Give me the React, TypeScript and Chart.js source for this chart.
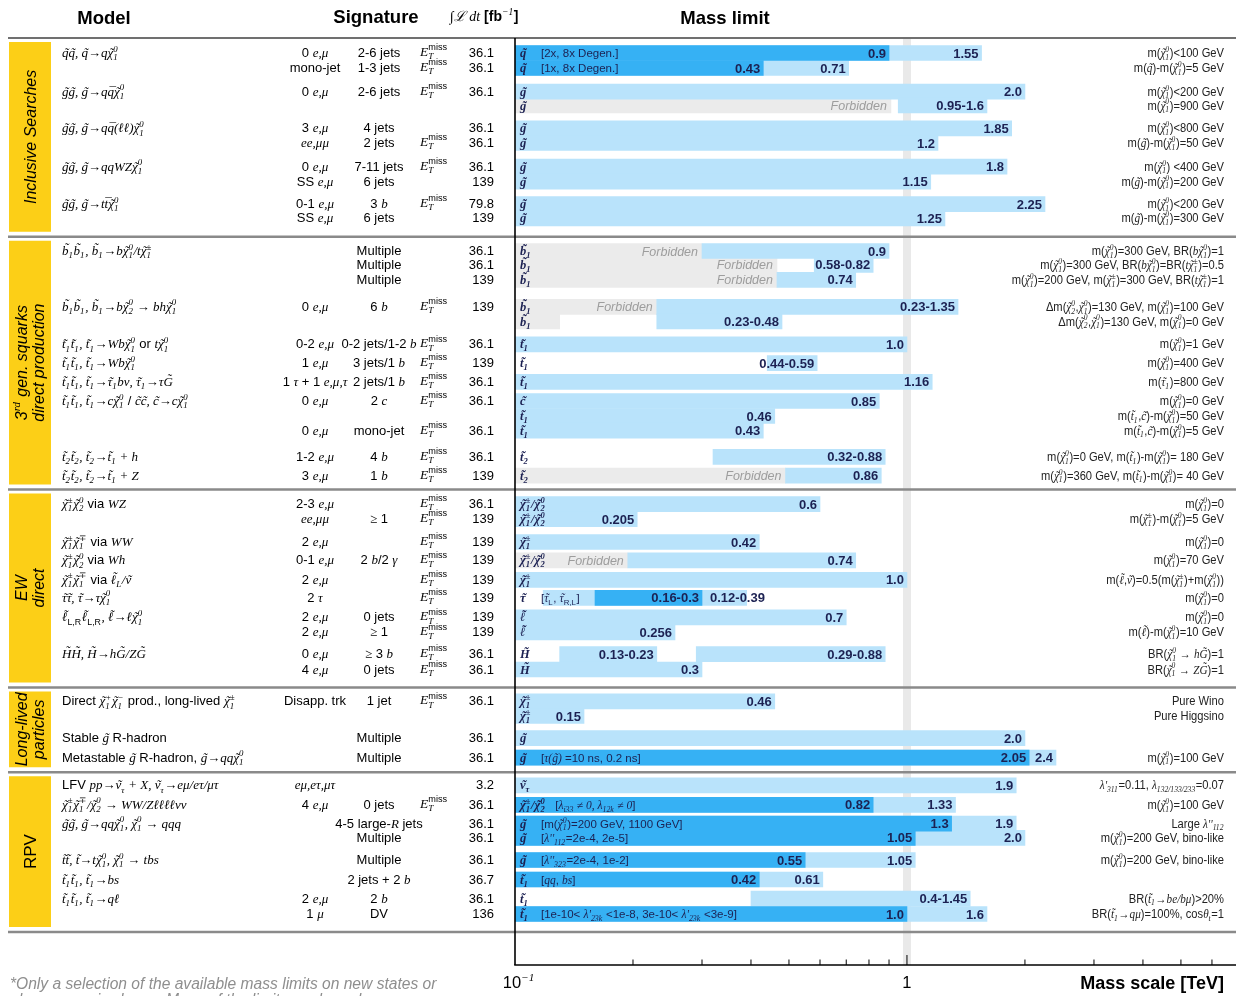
import React, { useEffect, useRef } from 'react';
import { Chart, registerables } from 'chart.js';

Chart.register(...registerables);

// ---------------- data ----------------
// vertical position of each result row on the (line-unit) category scale
const rowLine = [1.0, 2.0, 3.57, 4.5, 6.03, 7.0, 8.57, 9.57, 11.07, 12.03,
  14.2, 15.13, 16.13, 17.93, 18.9, 20.43, 21.67, 22.93, 24.2, 25.2, 26.17, 27.93, 29.17,
  31.07, 32.07, 33.6, 34.83, 36.13, 37.33, 38.63, 39.63, 41.07, 42.1,
  44.23, 45.2, 46.67, 47.97,
  49.83, 51.13, 52.37, 53.33, 54.8, 56.1, 57.37, 58.4];

const sectionBreaks = [13.25, 30.1, 43.3, 48.95, 59.6];
const sectionNames: string[][] = [
  ['Inclusive Searches'],
  ['3$^{rd}$ gen. squarks', 'direct production'],
  ['EW', 'direct'],
  ['Long-lived', 'particles'],
  ['RPV'],
];
const sectionItalic = [true, true, true, true, false];

const modelLabels: [number, string][] = [
  [0, '$~q~q, ~q→q~χ_1^0$'],
  [2, '$~g~g, ~g→q`q~χ_1^0$'],
  [4, '$~g~g, ~g→q`q(ℓℓ)~χ_1^0$'],
  [6, '$~g~g, ~g→qqWZ~χ_1^0$'],
  [8, '$~g~g, ~g→t`t~χ_1^0$'],
  [10, '$~b_1~b_1, ~b_1→b~χ_1^0/t~χ_1^±$'],
  [13, '$~b_1~b_1, ~b_1→b~χ_2^0 → bh~χ_1^0$'],
  [15, '$~t_1~t_1, ~t_1→Wb~χ_1^0$ or $t~χ_1^0$'],
  [16, '$~t_1~t_1, ~t_1→Wb~χ_1^0$'],
  [17, '$~t_1~t_1, ~t_1→~τ_1bν, ~τ_1→τ~G$'],
  [18, '$~t_1~t_1, ~t_1→c~χ_1^0$ / $~c~c, ~c→c~χ_1^0$'],
  [21, '$~t_2~t_2, ~t_2→~t_1 + h$'],
  [22, '$~t_2~t_2, ~t_2→~t_1 + Z$'],
  [23, '$~χ_1^±~χ_2^0$ via $WZ$'],
  [25, '$~χ_1^±~χ_1^∓$ via $WW$'],
  [26, '$~χ_1^±~χ_2^0$ via $Wh$'],
  [27, '$~χ_1^±~χ_1^∓$ via $~ℓ_L/~ν$'],
  [28, '$~τ~τ, ~τ→τ~χ_1^0$'],
  [29, '$~ℓ_{$L,R$}~ℓ_{$L,R$}, ~ℓ→ℓ~χ_1^0$'],
  [31, '$~H~H, ~H→h~G/Z~G$'],
  [33, 'Direct $~χ_1^+~χ_1^−$ prod., long-lived $~χ_1^±$'],
  [35, 'Stable $~g$ R-hadron'],
  [36, 'Metastable $~g$ R-hadron, $~g→qq~χ_1^0$'],
  [37, 'LFV $pp→~ν_τ + X, ~ν_τ→eμ/eτ/μτ$'],
  [38, '$~χ_1^±~χ_1^∓/~χ_2^0 → WW/Zℓℓℓℓνν$'],
  [39, '$~g~g, ~g→qq~χ_1^0, ~χ_1^0 → qqq$'],
  [41, '$~t~t, ~t→t~χ_1^0, ~χ_1^0 → tbs$'],
  [42, '$~t_1~t_1, ~t_1→bs$'],
  [43, '$~t_1~t_1, ~t_1→qℓ$'],
];

const leptonSig: [number, string][] = [
  [0, '0 $e,μ$'], [1, 'mono-jet'], [2, '0 $e,μ$'], [4, '3 $e,μ$'], [5, '$ee,μμ$'], [6, '0 $e,μ$'], [7, 'SS $e,μ$'],
  [8, '0-1 $e,μ$'], [9, 'SS $e,μ$'], [13, '0 $e,μ$'], [15, '0-2 $e,μ$'], [16, '1 $e,μ$'], [17, '1 $τ$ + 1 $e,μ,τ$'],
  [18, '0 $e,μ$'], [20, '0 $e,μ$'], [21, '1-2 $e,μ$'], [22, '3 $e,μ$'], [23, '2-3 $e,μ$'], [24, '$ee,μμ$'],
  [25, '2 $e,μ$'], [26, '0-1 $e,μ$'], [27, '2 $e,μ$'], [28, '2 $τ$'], [29, '2 $e,μ$'], [30, '2 $e,μ$'],
  [31, '0 $e,μ$'], [32, '4 $e,μ$'], [33, 'Disapp. trk'], [37, '$eμ,eτ,μτ$'], [38, '4 $e,μ$'], [43, '2 $e,μ$'], [44, '1 $μ$'],
];

const jetSig: [number, string][] = [
  [0, '2-6 jets'], [1, '1-3 jets'], [2, '2-6 jets'], [4, '4 jets'], [5, '2 jets'], [6, '7-11 jets'], [7, '6 jets'],
  [8, '3 $b$'], [9, '6 jets'], [10, 'Multiple'], [11, 'Multiple'], [12, 'Multiple'], [13, '6 $b$'],
  [15, '0-2 jets/1-2 $b$'], [16, '3 jets/1 $b$'], [17, '2 jets/1 $b$'], [18, '2 $c$'], [20, 'mono-jet'],
  [21, '4 $b$'], [22, '1 $b$'], [24, '$≥$ 1'], [26, '2 $b$/2 $γ$'], [29, '0 jets'], [30, '$≥$ 1'], [31, '$≥$ 3 $b$'],
  [32, '0 jets'], [33, '1 jet'], [35, 'Multiple'], [36, 'Multiple'], [38, '0 jets'], [39, '4-5 large-$R$ jets'],
  [40, 'Multiple'], [41, 'Multiple'], [42, '2 jets + 2 $b$'], [43, '2 $b$'], [44, 'DV'],
];

const metRows = [0, 1, 2, 5, 6, 8, 13, 15, 16, 17, 18, 20, 21, 22, 23, 24, 25, 26, 27, 28, 29, 30, 31, 32, 33, 38];

const lumi: [number, string][] = [
  [0, '36.1'], [1, '36.1'], [2, '36.1'], [4, '36.1'], [5, '36.1'], [6, '36.1'], [7, '139'], [8, '79.8'], [9, '139'],
  [10, '36.1'], [11, '36.1'], [12, '139'], [13, '139'], [15, '36.1'], [16, '139'], [17, '36.1'], [18, '36.1'],
  [20, '36.1'], [21, '36.1'], [22, '139'], [23, '36.1'], [24, '139'], [25, '139'], [26, '139'], [27, '139'],
  [28, '139'], [29, '139'], [30, '139'], [31, '36.1'], [32, '36.1'], [33, '36.1'], [35, '36.1'], [36, '36.1'],
  [37, '3.2'], [38, '36.1'], [39, '36.1'], [40, '36.1'], [41, '36.1'], [42, '36.7'], [43, '36.1'], [44, '136'],
];

const particles: [number, string][] = [
  [0, '$~q$'], [1, '$~q$'], [2, '$~g$'], [3, '$~g$'], [4, '$~g$'], [5, '$~g$'], [6, '$~g$'], [7, '$~g$'], [8, '$~g$'], [9, '$~g$'],
  [10, '$~b_1$'], [11, '$~b_1$'], [12, '$~b_1$'], [13, '$~b_1$'], [14, '$~b_1$'], [15, '$~t_1$'], [16, '$~t_1$'], [17, '$~t_1$'],
  [18, '$~c$'], [19, '$~t_1$'], [20, '$~t_1$'], [21, '$~t_2$'], [22, '$~t_2$'],
  [23, '$~χ_1^±/~χ_2^0$'], [24, '$~χ_1^±/~χ_2^0$'], [25, '$~χ_1^±$'], [26, '$~χ_1^±/~χ_2^0$'], [27, '$~χ_1^±$'], [28, '$~τ$'],
  [29, '$~ℓ$'], [30, '$~ℓ$'], [31, '$~H$'], [32, '$~H$'], [33, '$~χ_1^±$'], [34, '$~χ_1^±$'], [35, '$~g$'], [36, '$~g$'],
  [37, '$~ν_τ$'], [38, '$~χ_1^±/~χ_2^0$'], [39, '$~g$'], [40, '$~g$'], [41, '$~g$'], [42, '$~t_1$'], [43, '$~t_1$'], [44, '$~t_1$'],
];

const notes: [number, string][] = [
  [0, '[2x, 8x Degen.]'], [1, '[1x, 8x Degen.]'], [28, '[$~τ_{$L$}$, $~τ_{$R,L$}$]'], [36, '[$τ(~g)$ =10 ns, 0.2 ns]'],
  [38, '[$λ_{i33} ≠ 0, λ_{12k} ≠ 0$]'], [39, '[m($~χ_1^0$)=200 GeV, 1100 GeV]'], [40, "[$λ''_{112}$=2e-4, 2e-5]"],
  [41, "[$λ''_{323}$=2e-4, 1e-2]"], [42, '[$qq$, $bs$]'], [44, "[1e-10< $λ'_{23k}$ <1e-8, 3e-10< $λ'_{23k}$ <3e-9]"],
];

const conditions: [number, string][] = [
  [0, 'm($~χ_1^0$)<100 GeV'], [1, 'm($~q$)-m($~χ_1^0$)=5 GeV'], [2, 'm($~χ_1^0$)<200 GeV'], [3, 'm($~χ_1^0$)=900 GeV'],
  [4, 'm($~χ_1^0$)<800 GeV'], [5, 'm($~g$)-m($~χ_1^0$)=50 GeV'], [6, 'm($~χ_1^0$) <400 GeV'], [7, 'm($~g$)-m($~χ_1^0$)=200 GeV'],
  [8, 'm($~χ_1^0$)<200 GeV'], [9, 'm($~g$)-m($~χ_1^0$)=300 GeV'],
  [10, 'm($~χ_1^0$)=300 GeV, BR($b~χ_1^0$)=1'], [11, 'm($~χ_1^0$)=300 GeV, BR($b~χ_1^0$)=BR($t~χ_1^±$)=0.5'],
  [12, 'm($~χ_1^0$)=200 GeV, m($~χ_1^±$)=300 GeV, BR($t~χ_1^±$)=1'],
  [13, 'Δm($~χ_2^0$,$~χ_1^0$)=130 GeV, m($~χ_1^0$)=100 GeV'], [14, 'Δm($~χ_2^0$,$~χ_1^0$)=130 GeV, m($~χ_1^0$)=0 GeV'],
  [15, 'm($~χ_1^0$)=1 GeV'], [16, 'm($~χ_1^0$)=400 GeV'], [17, 'm($~τ_1$)=800 GeV'], [18, 'm($~χ_1^0$)=0 GeV'],
  [19, 'm($~t_1$,$~c$)-m($~χ_1^0$)=50 GeV'], [20, 'm($~t_1$,$~c$)-m($~χ_1^0$)=5 GeV'],
  [21, 'm($~χ_1^0$)=0 GeV, m($~t_1$)-m($~χ_1^0$)= 180 GeV'], [22, 'm($~χ_1^0$)=360 GeV, m($~t_1$)-m($~χ_1^0$)= 40 GeV'],
  [23, 'm($~χ_1^0$)=0'], [24, 'm($~χ_1^±$)-m($~χ_1^0$)=5 GeV'], [25, 'm($~χ_1^0$)=0'], [26, 'm($~χ_1^0$)=70 GeV'],
  [27, 'm($~ℓ$,$~ν$)=0.5(m($~χ_1^±$)+m($~χ_1^0$))'], [28, 'm($~χ_1^0$)=0'], [29, 'm($~χ_1^0$)=0'],
  [30, 'm($~ℓ$)-m($~χ_1^0$)=10 GeV'], [31, 'BR($~χ_1^0$ → $h~G$)=1'], [32, 'BR($~χ_1^0$ → $Z~G$)=1'],
  [33, 'Pure Wino'], [34, 'Pure Higgsino'], [36, 'm($~χ_1^0$)=100 GeV'],
  [37, "$λ'_{311}$=0.11, $λ_{132/133/233}$=0.07"], [38, 'm($~χ_1^0$)=100 GeV'], [39, "Large $λ''_{112}$"],
  [40, 'm($~χ_1^0$)=200 GeV, bino-like'], [41, 'm($~χ_1^0$)=200 GeV, bino-like'],
  [43, 'BR($~t_1→be/bμ$)>20%'], [44, 'BR($~t_1→qμ$)=100%, cos$θ_t$=1'],
];

// [row, low, high, label]  (TeV)
const darkBars: [number, number, number, string][] = [
  [0, 0.1, 0.9, '0.9'], [1, 0.1, 0.43, '0.43'], [28, 0.16, 0.3, '0.16-0.3'], [36, 0.1, 2.05, '2.05'],
  [38, 0.1, 0.82, '0.82'], [39, 0.1, 1.3, '1.3'], [40, 0.1, 1.05, '1.05'], [41, 0.1, 0.55, '0.55'],
  [42, 0.1, 0.42, '0.42'], [44, 0.1, 1.0, '1.0'],
];
const lightBars: [number, number, number, string][] = [
  [0, 0.1, 1.55, '1.55'], [1, 0.1, 0.71, '0.71'], [2, 0.1, 2.0, '2.0'], [3, 0.95, 1.6, '0.95-1.6'],
  [4, 0.1, 1.85, '1.85'], [5, 0.1, 1.2, '1.2'], [6, 0.1, 1.8, '1.8'], [7, 0.1, 1.15, '1.15'],
  [8, 0.1, 2.25, '2.25'], [9, 0.1, 1.25, '1.25'],
  [10, 0.3, 0.9, '0.9'], [11, 0.58, 0.82, '0.58-0.82'], [12, 0.466, 0.74, '0.74'],
  [13, 0.23, 1.35, '0.23-1.35'], [14, 0.23, 0.48, '0.23-0.48'], [15, 0.1, 1.0, '1.0'],
  [16, 0.44, 0.59, '0.44-0.59'], [17, 0.1, 1.16, '1.16'], [18, 0.1, 0.85, '0.85'], [19, 0.1, 0.46, '0.46'],
  [20, 0.1, 0.43, '0.43'], [21, 0.32, 0.88, '0.32-0.88'], [22, 0.49, 0.86, '0.86'],
  [23, 0.1, 0.6, '0.6'], [24, 0.1, 0.205, '0.205'], [25, 0.1, 0.42, '0.42'], [26, 0.194, 0.74, '0.74'],
  [27, 0.1, 1.0, '1.0'], [28, 0.118, 0.39, '0.12-0.39'], [29, 0.1, 0.7, '0.7'], [30, 0.1, 0.256, '0.256'],
  [31, 0.13, 0.23, '0.13-0.23'], [31, 0.29, 0.88, '0.29-0.88'], [32, 0.1, 0.3, '0.3'],
  [33, 0.1, 0.46, '0.46'], [34, 0.1, 0.15, '0.15'], [35, 0.1, 2.0, '2.0'], [36, 0.1, 2.4, '2.4'],
  [37, 0.1, 1.9, '1.9'], [38, 0.1, 1.33, '1.33'], [39, 0.1, 1.9, '1.9'], [40, 0.1, 2.0, '2.0'],
  [41, 0.1, 1.05, '1.05'], [42, 0.1, 0.61, '0.61'], [43, 0.4, 1.45, '0.4-1.45'], [44, 0.1, 1.6, '1.6'],
];
// [row, upper edge of kinematically forbidden region, show text]
const forbiddenBars: [number, number, boolean][] = [
  [3, 0.91, true], [10, 0.3, true], [11, 0.466, true], [12, 0.466, true], [13, 0.23, true],
  [14, 0.13, false], [22, 0.49, true], [26, 0.194, true],
];

const massTicks = [0.2, 0.3, 0.4, 0.5, 0.6, 0.7, 0.8, 0.9, 1, 2, 3, 4, 5, 6];
const axisTickLabels: [number, string][] = [[0.1, '10$^{−1}$'], [1, '1']];
const X_MIN = 0.1;
const X_MAX = 6.91;
const Y_MAX = 61.8;

// ---------------- styles ----------------
const DARK = '#36b1f4';
const LIGHT = '#b9e3fb';
const GREY = '#ebebeb';
const YELLOW = '#fccf17';
const NAVY = '#1c2152';
const SANS = '"Liberation Sans", Arial, Helvetica, sans-serif';
const SERIF = '"Liberation Serif", "Times New Roman", "DejaVu Serif", serif';

// ---------------- rich text ----------------
type RNode =
  | { t: 's'; s: string; m: boolean }
  | { t: 'a'; s: string; acc: string; m: boolean }
  | { t: 'x'; sub: RNode[] | null; sup: RNode[] | null };
type RO = { size: number; color?: string; align?: 'left' | 'right' | 'center'; bold?: boolean; italic?: boolean; mathBold?: boolean; hscale?: number };

const parseCache = new Map<string, RNode[]>();
function parseRich(src: string): RNode[] {
  const cached = parseCache.get(src);
  if (cached) return cached;
  let i = 0;
  let math = false;
  let arg: () => RNode[];
  const seq = (inBrace: boolean): RNode[] => {
    const out: RNode[] = [];
    let buf = '';
    const flush = () => { if (buf) { out.push({ t: 's', s: buf, m: math }); buf = ''; } };
    while (i < src.length) {
      const c = src[i];
      if (inBrace && c === '}') { i++; break; }
      if (c === '$') { flush(); math = !math; i++; continue; }
      if (c === '_' || c === '^') {
        flush(); i++;
        let sub: RNode[] | null = null;
        let sup: RNode[] | null = null;
        if (c === '_') sub = arg(); else sup = arg();
        if (src[i] === '_' && !sub) { i++; sub = arg(); }
        else if (src[i] === '^' && !sup) { i++; sup = arg(); }
        out.push({ t: 'x', sub, sup });
        continue;
      }
      if (math && (c === '~' || c === '`') && i + 1 < src.length) {
        flush();
        out.push({ t: 'a', s: src[i + 1], acc: c === '~' ? '\u02DC' : '\u00AF', m: math });
        i += 2;
        continue;
      }
      buf += c; i++;
    }
    flush();
    return out;
  };
  arg = () => {
    if (src[i] === '{') { i++; return seq(true); }
    const c = src[i++] ?? '';
    return [{ t: 's', s: c, m: math }];
  };
  const res = seq(false);
  parseCache.set(src, res);
  return res;
}

function fontOf(m: boolean, size: number, o: RO) {
  if (m) return `italic ${o.mathBold ? 'bold ' : ''}${size}px ${SERIF}`;
  return `${o.italic ? 'italic ' : ''}${o.bold ? 'bold ' : ''}${size}px ${SANS}`;
}
function measureNodes(ctx: CanvasRenderingContext2D, nodes: RNode[], size: number, o: RO): number {
  let w = 0;
  for (const n of nodes) {
    if (n.t === 's' || n.t === 'a') { ctx.font = fontOf(n.m, size, o); w += ctx.measureText(n.s).width; }
    else {
      const s2 = size * 0.68;
      w += Math.max(n.sub ? measureNodes(ctx, n.sub, s2, o) : 0, n.sup ? measureNodes(ctx, n.sup, s2, o) : 0) + size * 0.05;
    }
  }
  return w;
}
function renderNodes(ctx: CanvasRenderingContext2D, nodes: RNode[], x: number, y: number, size: number, o: RO): number {
  for (const n of nodes) {
    if (n.t === 's') { ctx.font = fontOf(n.m, size, o); ctx.fillText(n.s, x, y); x += ctx.measureText(n.s).width; }
    else if (n.t === 'a') {
      ctx.font = fontOf(n.m, size, o);
      const w = ctx.measureText(n.s).width;
      ctx.fillText(n.s, x, y);
      const aw = ctx.measureText(n.acc).width;
      const tall = /[A-Zbdfhklℓ]/.test(n.s);
      const raise = tall ? size * 0.2 : n.s === 't' ? size * 0.06 : 0;
      ctx.fillText(n.acc, x + (w - aw) / 2 + (n.m ? size * 0.08 : 0), y - raise);
      x += w;
    } else {
      const s2 = size * 0.68;
      const a = n.sub ? renderNodes(ctx, n.sub, x, y + size * 0.24, s2, o) - x : 0;
      const b = n.sup ? renderNodes(ctx, n.sup, x, y - size * 0.42, s2, o) - x : 0;
      x += Math.max(a, b) + size * 0.05;
    }
  }
  return x;
}
function measureRich(ctx: CanvasRenderingContext2D, src: string, o: RO): number {
  return measureNodes(ctx, parseRich(src), o.size, o) * (o.hscale ?? 1);
}
function drawRich(ctx: CanvasRenderingContext2D, src: string, x: number, y: number, o: RO): number {
  const nodes = parseRich(src);
  const hs = o.hscale ?? 1;
  const w = measureNodes(ctx, nodes, o.size, o);
  ctx.save();
  ctx.translate(x, y);
  ctx.scale(hs, 1);
  ctx.fillStyle = o.color ?? '#000';
  ctx.textAlign = 'left';
  ctx.textBaseline = 'alphabetic';
  const start = o.align === 'right' ? -w : o.align === 'center' ? -w / 2 : 0;
  renderNodes(ctx, nodes, start, 0, o.size, o);
  ctx.restore();
  return w * hs;
}
function hline(ctx: CanvasRenderingContext2D, x0: number, x1: number, y: number, color: string, lw: number) {
  ctx.save(); ctx.strokeStyle = color; ctx.lineWidth = lw;
  ctx.beginPath(); ctx.moveTo(x0, y); ctx.lineTo(x1, y); ctx.stroke(); ctx.restore();
}
function vline(ctx: CanvasRenderingContext2D, x: number, y0: number, y1: number, color: string, lw: number) {
  ctx.save(); ctx.strokeStyle = color; ctx.lineWidth = lw;
  ctx.beginPath(); ctx.moveTo(x, y0); ctx.lineTo(x, y1); ctx.stroke(); ctx.restore();
}

// ---------------- plugin: table + annotations ----------------
const tablePlugin = {
  id: 'atlasTable',
  beforeDatasetsDraw(chart: any) {
    const { ctx, chartArea: ca, scales } = chart;
    const p1 = scales.x.getPixelForValue(1);
    ctx.save();
    ctx.fillStyle = '#e9e9e9';
    ctx.fillRect(p1 - 4, ca.top, 8, ca.bottom - ca.top);
    ctx.restore();
  },
  afterDatasetsDraw(chart: any) {
    const ctx: CanvasRenderingContext2D = chart.ctx;
    const ca = chart.chartArea;
    const xs = chart.scales.x;
    const ys = chart.scales.y;
    const W = chart.width;
    const Y = (r: number) => ys.getPixelForValue(rowLine[r]);
    const X = (v: number) => xs.getPixelForValue(v);

    // forbidden text
    for (const [r, hi, show] of forbiddenBars) {
      if (show) drawRich(ctx, 'Forbidden', X(hi) - 4, Y(r) + 4.5, { size: 12.5, italic: true, align: 'right', color: '#9d9d9d' });
    }
    // value labels
    const valOpt: RO = { size: 13, bold: true, align: 'right', color: NAVY };
    for (const [r, , hi, lab] of darkBars) drawRich(ctx, lab, X(hi) - 3, Y(r) + 4.5, valOpt);
    for (const [r, , hi, lab] of lightBars) {
      const w = measureRich(ctx, lab, valOpt);
      const dark = darkBars.find((d) => d[0] === r && d[2] < hi);
      const left = X(hi) - 3 - w;
      if (dark && left < X(dark[2]) + 2) {
        drawRich(ctx, lab, X(dark[2]) + 8, Y(r) + 4.5, { ...valOpt, align: 'left' });
      } else {
        drawRich(ctx, lab, X(hi) - 3, Y(r) + 4.5, valOpt);
      }
    }
    // particle labels + notes
    const pw: Record<number, number> = {};
    for (const [r, p] of particles) pw[r] = drawRich(ctx, p, ca.left + 5, Y(r) + 4, { size: 12.5, mathBold: true, color: NAVY });
    for (const [r, n] of notes) {
      drawRich(ctx, n, Math.max(ca.left + 26, ca.left + 5 + (pw[r] ?? 0) + 10), Y(r) + 4, { size: 11.5, color: NAVY });
    }

    // separators
    hline(ctx, 8, W, ca.top, '#707070', 2);
    for (const s of sectionBreaks) hline(ctx, 8, W, ys.getPixelForValue(s), '#8a8a8a', 2.5);
    // frame
    vline(ctx, ca.left, ca.top, ca.bottom, '#000', 1.6);
    hline(ctx, ca.left - 0.8, W, ca.bottom, '#000', 1.6);
    // ticks
    for (const v of massTicks) vline(ctx, X(v), ca.bottom, ca.bottom - (v === 1 ? 10 : 5.5), '#000', 1);
    for (const [v, lab] of axisTickLabels) drawRich(ctx, lab, X(v) + (v < 1 ? 4 : 0), 988, { size: 16.5, align: 'center' });
    drawRich(ctx, 'Mass scale [TeV]', 1224, 989, { size: 18, bold: true, align: 'right' });

    // section boxes
    let prev = 0;
    sectionBreaks.forEach((b, k) => {
      const top = ys.getPixelForValue(prev) + 4;
      const bot = ys.getPixelForValue(b) - 5;
      ctx.fillStyle = YELLOW;
      ctx.fillRect(9, top, 42, bot - top);
      const cy = (top + bot) / 2;
      const lines = sectionNames[k];
      const offs = lines.length === 1 ? [0] : [-8.5, 8.5];
      ctx.save();
      ctx.translate(30, cy);
      ctx.rotate(-Math.PI / 2);
      lines.forEach((ln, j) => drawRich(ctx, ln, 0, offs[j] + 5.5, { size: lines.length === 1 && !sectionItalic[k] ? 17 : 16, italic: sectionItalic[k], align: 'center' }));
      ctx.restore();
      prev = b;
    });

    // left table
    for (const [r, s] of modelLabels) drawRich(ctx, s, 62, Y(r) + 4, { size: 13 });
    for (const [r, s] of leptonSig) drawRich(ctx, s, 315, Y(r) + 4, { size: 13, align: 'center' });
    for (const [r, s] of jetSig) drawRich(ctx, s, 379, Y(r) + 4, { size: 13, align: 'center' });
    for (const r of metRows) drawRich(ctx, '$E_T^{$miss$}$', 420, Y(r) + 3, { size: 13.5 });
    for (const [r, s] of lumi) drawRich(ctx, s, 494, Y(r) + 4, { size: 13, align: 'right' });

    // right-hand conditions
    for (const [r, s] of conditions) drawRich(ctx, s, 1224, Y(r) + 4, { size: 12, align: 'right', hscale: 0.93, color: '#222' });

    // headers
    drawRich(ctx, 'Model', 104, 24, { size: 18.5, bold: true, align: 'center' });
    drawRich(ctx, 'Signature', 376, 23, { size: 18.5, bold: true, align: 'center' });
    drawRich(ctx, '$∫ℒ dt$ [fb$^{−1}$]', 450, 21, { size: 14, bold: true });
    drawRich(ctx, 'Mass limit', 725, 24, { size: 18.5, bold: true, align: 'center' });

    // footnote
    drawRich(ctx, '*Only a selection of the available mass limits on new states or', 10, 989, { size: 15.6, italic: true, color: '#8e8e8e' });
    drawRich(ctx, 'phenomena is shown. Many of the limits are based on', 10, 1005, { size: 15.6, italic: true, color: '#8e8e8e' });
  },
};

function barData(list: [number, number, number, string][]) {
  return list.map(([r, lo, hi]) => ({ x: [lo, hi], y: rowLine[r] }));
}

export default function App() {
  const ref = useRef<HTMLCanvasElement>(null);
  useEffect(() => {
    document.body.style.margin = '0';
    const canvas = ref.current!;
    const common = { barThickness: 15, grouped: false, borderWidth: 0, borderSkipped: false };
    const chart = new Chart(canvas, {
      type: 'bar',
      data: {
        datasets: [
          { label: 'limit (dark)', data: barData(darkBars) as any, backgroundColor: DARK, order: 0, ...common },
          { label: 'limit (light)', data: barData(lightBars) as any, backgroundColor: LIGHT, order: 1, ...common },
          { label: 'forbidden', data: forbiddenBars.map(([r, hi]) => ({ x: [X_MIN, hi], y: rowLine[r] })) as any, backgroundColor: GREY, order: 2, ...common },
        ],
      },
      options: {
        indexAxis: 'y',
        responsive: false,
        maintainAspectRatio: false,
        animation: false,
        devicePixelRatio: 1,
        events: [],
        layout: { padding: { left: 515, right: 0, top: 38, bottom: 31 } },
        scales: {
          x: { type: 'logarithmic', min: X_MIN, max: X_MAX, display: false, beginAtZero: false, bounds: 'data' },
          y: { type: 'linear', min: 0, max: Y_MAX, reverse: true, display: false, offset: false, bounds: 'data' },
        },
        plugins: { legend: { display: false }, tooltip: { enabled: false }, title: { display: false } },
      } as any,
      plugins: [tablePlugin],
    });
    return () => chart.destroy();
  }, []);
  return <canvas ref={ref} width={1236} height={996} style={{ display: 'block', width: 1236, height: 996 }} />;
}
